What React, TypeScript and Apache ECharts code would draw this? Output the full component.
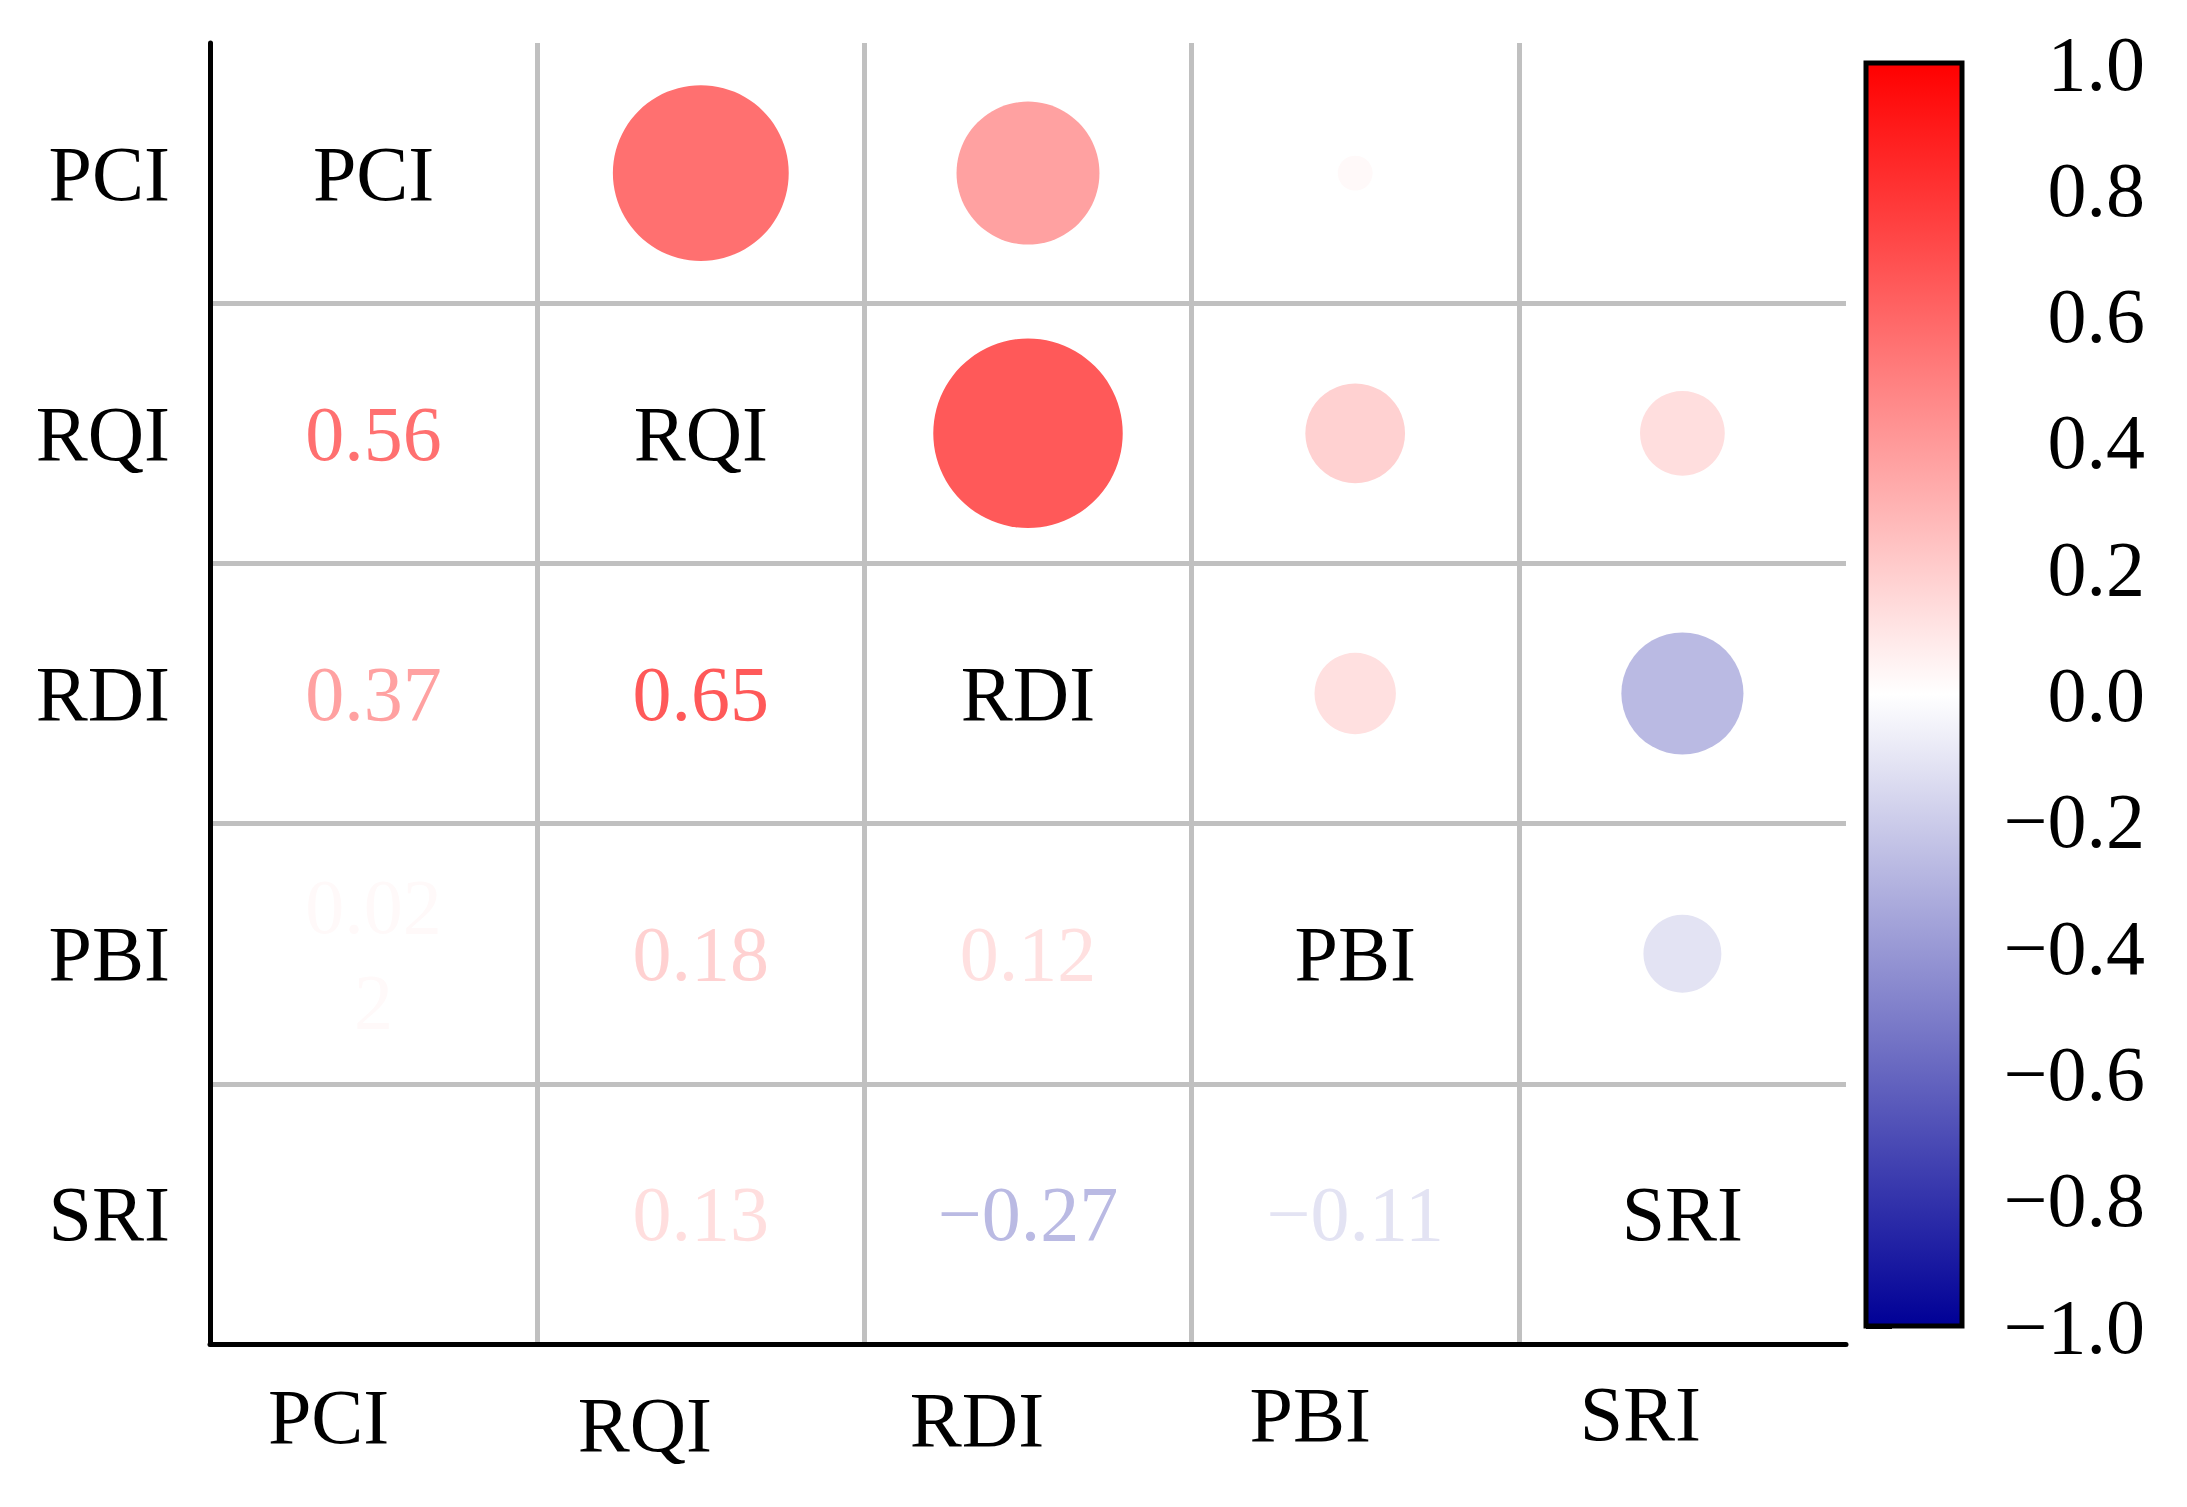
import React, { useEffect, useRef } from 'react';
import * as echarts from 'echarts';

// ---- data ----
const variables = ['PCI', 'RQI', 'RDI', 'PBI', 'SRI'];
const corrPCI = [1, 0.56, 0.37, 0.022, null];
const corrRQI = [0.56, 1, 0.65, 0.18, 0.13];
const corrRDI = [0.37, 0.65, 1, 0.12, -0.27];
const corrPBI = [0.022, 0.18, 0.12, 1, -0.11];
const corrSRI = [null, 0.13, -0.27, -0.11, 1];
const corrRows = [corrPCI, corrRQI, corrRDI, corrPBI, corrSRI];
const colorbarRange = [-1, 1];

// ---- styles ----
const FONT = "'Liberation Serif', 'Times New Roman', serif";
const FS = 78;
const NEG = [0, 0, 150];
const MID = [255, 255, 255];
const POS = [255, 0, 0];
const MAX_DIAM = 235;
const xLabelTweaks = [
  { dx: -45, lh: 85 },
  { dx: -56, lh: 101 },
  { dx: -51, lh: 91 },
  { dx: -45, lh: 81 },
  { dx: -42, lh: 79 },
];

function colorFor(v: number): string {
  const t = Math.max(-1, Math.min(1, v));
  const end = t >= 0 ? POS : NEG;
  const a = Math.abs(t);
  const c = MID.map((m, k) => Math.round(m + (end[k] - m) * a));
  return `rgb(${c[0]},${c[1]},${c[2]})`;
}

function fmt(v: number): string {
  const a = Math.abs(v);
  const s = a < 0.1 ? a.toFixed(3) : a.toFixed(2);
  const text = (v < 0 ? '\u2212' : '') + s;
  return v >= 0 && text.length > 4 ? text.slice(0, 4) + '\n' + text.slice(4) : text;
}

export default function App() {
  const ref = useRef<HTMLDivElement>(null);

  useEffect(() => {
    if (!ref.current) return;
    const chart = echarts.init(ref.current, undefined, { renderer: 'svg' });

    const circles: any[] = [];
    const numbers: any[] = [];
    const diag: any[] = [];
    corrRows.forEach((row, i) => {
      row.forEach((v, j) => {
        if (v === null || v === undefined) return;
        if (i === j) {
          diag.push({ value: [j, i, v], name: variables[i] });
        } else if (j > i) {
          circles.push({ value: [j, i, v], itemStyle: { color: colorFor(v), opacity: 1 } });
        } else {
          numbers.push({ value: [j, i, v], label: { color: colorFor(v) } });
        }
      });
    });

    const rich: any = {};
    xLabelTweaks.forEach((t, i) => {
      rich['c' + i] = {
        fontSize: FS,
        fontFamily: FONT,
        color: '#000',
        lineHeight: t.lh,
        padding: [0, -2 * t.dx, 0, 0],
      };
    });

    const splitLine = {
      show: true,
      showMinLine: false,
      showMaxLine: false,
      lineStyle: { color: '#c0c0c0', width: 5 },
    };

    const textLabelBase = {
      show: true,
      position: 'inside',
      fontSize: FS,
      fontFamily: FONT,
      align: 'center',
      verticalAlign: 'middle',
      opacity: 1,
    };

    chart.setOption({
      animation: false,
      backgroundColor: '#ffffff',
      grid: [
        { left: 210, top: 43, width: 1636, height: 1301 },
        { left: 1866, top: 63, width: 96, height: 1263 },
      ],
      xAxis: [
        {
          type: 'category',
          gridIndex: 0,
          data: variables,
          boundaryGap: true,
          axisLine: { show: true, lineStyle: { color: '#000', width: 5 } },
          axisTick: { show: false },
          splitLine,
          axisLabel: {
            interval: 0,
            margin: 30,
            formatter: (val: string, idx: number) => `{c${idx}|${val}}`,
            rich,
          },
        },
        { type: 'value', gridIndex: 1, min: 0, max: 1, show: false },
      ],
      yAxis: [
        {
          type: 'category',
          gridIndex: 0,
          data: variables,
          inverse: true,
          boundaryGap: true,
          axisLine: { show: true, lineStyle: { color: '#000', width: 5 } },
          axisTick: { show: false },
          splitLine,
          axisLabel: {
            interval: 0,
            margin: 40,
            fontSize: FS,
            fontFamily: FONT,
            color: '#000',
          },
        },
        {
          type: 'value',
          gridIndex: 1,
          position: 'right',
          min: colorbarRange[0],
          max: colorbarRange[1],
          interval: 0.2,
          splitLine: { show: false },
          axisLine: { show: false },
          axisTick: { show: true, inside: false, length: 26, lineStyle: { color: '#000', width: 5 } },
          axisLabel: {
            margin: 183,
            align: 'right',
            fontSize: FS,
            fontFamily: FONT,
            color: '#000',
            formatter: (v: number) => {
              const r = Math.round(v * 10) / 10;
              return (r < 0 ? '\u2212' : '') + Math.abs(r).toFixed(1);
            },
          },
        },
      ],
      series: [
        {
          type: 'scatter',
          xAxisIndex: 0,
          yAxisIndex: 0,
          symbol: 'circle',
          symbolSize: (val: number[]) => MAX_DIAM * Math.sqrt(Math.abs(val[2])),
          itemStyle: { opacity: 1 },
          data: circles,
          silent: true,
        },
        {
          type: 'scatter',
          xAxisIndex: 0,
          yAxisIndex: 0,
          symbolSize: 1,
          itemStyle: { color: 'rgba(0,0,0,0)', opacity: 1 },
          label: {
            ...textLabelBase,
            lineHeight: 95,
            formatter: (p: any) => fmt(p.value[2]),
          },
          data: numbers,
          silent: true,
        },
        {
          type: 'scatter',
          xAxisIndex: 0,
          yAxisIndex: 0,
          symbolSize: 1,
          itemStyle: { color: 'rgba(0,0,0,0)', opacity: 1 },
          label: {
            ...textLabelBase,
            color: '#000',
            formatter: (p: any) => p.name,
          },
          data: diag,
          silent: true,
        },
        {
          type: 'custom',
          xAxisIndex: 1,
          yAxisIndex: 1,
          silent: true,
          data: [colorbarRange],
          renderItem: (params: any, api: any) => {
            const p1 = api.coord([0, colorbarRange[1]]);
            const p2 = api.coord([1, colorbarRange[0]]);
            return {
              type: 'rect',
              shape: { x: p1[0], y: p1[1], width: p2[0] - p1[0], height: p2[1] - p1[1] },
              style: {
                fill: new echarts.graphic.LinearGradient(0, 0, 0, 1, [
                  { offset: 0, color: colorFor(1) },
                  { offset: 0.5, color: colorFor(0) },
                  { offset: 1, color: colorFor(-1) },
                ]),
                stroke: '#000',
                lineWidth: 5,
              },
            };
          },
        },
      ],
    });

    return () => chart.dispose();
  }, []);

  return (
    <div
      ref={ref}
      style={{ position: 'fixed', left: 0, top: 0, width: 2187, height: 1507, background: '#fff' }}
    />
  );
}
